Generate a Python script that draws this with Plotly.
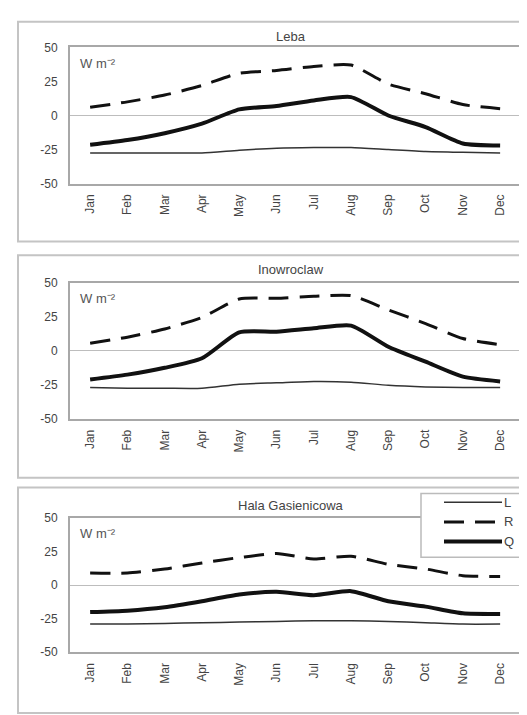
import plotly.graph_objects as go

months = ["Jan", "Feb", "Mar", "Apr", "May", "Jun", "Jul", "Aug", "Sep", "Oct", "Nov", "Dec"]
stations = ["Leba", "Inowroclaw", "Hala Gasienicowa"]
y_ticks = [-50, -25, 0, 25, 50]

leba_L = [-27.5, -27.5, -27.5, -27.5, -25.5, -24, -23.5, -23.5, -25, -26.5, -27, -27.5]
leba_R = [6, 10, 15, 22, 31, 33, 36, 37, 23, 16, 8, 5]
leba_Q = [-21.5, -18, -13, -6, 4.5, 7, 11, 13.5, 0, -8.5, -20.5, -22]

ino_L = [-27, -27.5, -27.5, -27.5, -24.5, -23.5, -22.5, -23, -25.3, -26.5, -27, -27]
ino_R = [5.5, 10, 16, 24.5, 38, 38.5, 40, 40.5, 30, 20, 9, 4.5]
ino_Q = [-21, -17.5, -12.5, -5.5, 13.5, 14, 16.5, 18.5, 3, -8, -19, -22.5]

hala_L = [-29, -29, -28.5, -28, -27.5, -27, -26.5, -26.5, -27, -28, -29, -29]
hala_R = [9, 9, 12, 16.5, 20.5, 23.5, 19.5, 21.5, 15.5, 12, 7, 6.5]
hala_Q = [-20, -19, -16.5, -12, -7, -5, -7.5, -4.5, -12, -16, -21, -21.5]

series = [(leba_L, leba_R, leba_Q), (ino_L, ino_R, ino_Q), (hala_L, hala_R, hala_Q)]

W, H = 527, 715
def px(x):
    return x / W
def py(y):
    return 1 - y / H

# plot areas in pixels (top, bottom)
plot_rows = [(33, 172), (273, 412), (513, 650)]
panel_boxes = [(7, 231), (245, 472), (482, 712)]
title_y = [22, 260, 500]
x_left, x_right = 62, 513

fig = go.Figure()
line_col = "#111111"
for i, (L, R, Q) in enumerate(series):
    xa = "x" if i == 0 else f"x{i+1}"
    ya = "y" if i == 0 else f"y{i+1}"
    fig.add_trace(go.Scatter(x=months, y=L, name="L", mode="lines", xaxis=xa, yaxis=ya,
                             line=dict(color="#333333", width=1.5, shape="spline", smoothing=0.6),
                             showlegend=False))
    fig.add_trace(go.Scatter(x=months, y=R, name="R", mode="lines", xaxis=xa, yaxis=ya,
                             line=dict(color=line_col, width=3, dash="20px,11px", shape="spline", smoothing=0.6),
                             showlegend=False))
    fig.add_trace(go.Scatter(x=months, y=Q, name="Q", mode="lines", xaxis=xa, yaxis=ya,
                             line=dict(color=line_col, width=4, shape="spline", smoothing=0.6),
                             showlegend=False))

layout = dict(
    width=W, height=H,
    margin=dict(l=0, r=0, t=0, b=0),
    paper_bgcolor="white", plot_bgcolor="white",
    font=dict(family="Liberation Sans, Arial", color="#444444", size=12),
)
axis_line = dict(showline=True, linecolor="#a8a8a8", linewidth=2, mirror=True, showgrid=False)
for i, (top, bot) in enumerate(plot_rows):
    sfx = "" if i == 0 else str(i + 1)
    layout[f"xaxis{sfx}"] = dict(
        domain=[px(x_left), px(x_right)], anchor=f"y{sfx}", type="category",
        range=[-0.54, 11.56], tickangle=-90, ticks="", tickfont=dict(size=12, color="#444444"),
        ticklabelstandoff=4, zeroline=False, **axis_line)
    layout[f"yaxis{sfx}"] = dict(
        domain=[py(bot), py(top)], anchor=f"x{sfx}", range=[-50, 50],
        tickvals=y_ticks, ticktext=[str(v) for v in y_ticks], ticks="",
        ticklabelstandoff=8, tickfont=dict(size=12, color="#444444"),
        zeroline=True, zerolinecolor="#bdbdbd", zerolinewidth=1, **axis_line)
fig.update_layout(**layout)

shapes = []
annotations = []
for i, (btop, bbot) in enumerate(panel_boxes):
    shapes.append(dict(type="rect", xref="paper", yref="paper", x0=px(10), x1=px(526),
                       y0=py(bbot), y1=py(btop), line=dict(color="#c4c4c4", width=2), layer="below"))
    annotations.append(dict(xref="paper", yref="paper", x=px(283), y=py(title_y[i]),
                            text=stations[i], showarrow=False, font=dict(size=13, color="#444444"),
                            xanchor="center", yanchor="middle"))
    top = plot_rows[i][0]
    annotations.append(dict(xref="paper", yref="paper", x=px(70), y=py(top + 16),
                            text="W m\u207b\u00b2", showarrow=False, font=dict(size=13, color="#555555"),
                            xanchor="left", yanchor="middle"))

# legend (bottom panel, top right)
shapes.append(dict(type="rect", xref="paper", yref="paper", x0=px(413), x1=px(512),
                   y0=py(553), y1=py(488), line=dict(color="#bbbbbb", width=1.5),
                   fillcolor="white", layer="above"))
legend_items = [("L", 497, dict(color="#333333", width=1.5)),
                ("R", 517, dict(color=line_col, width=3, dash="20px,11px")),
                ("Q", 537, dict(color=line_col, width=4))]
for name, yy, ln in legend_items:
    shapes.append(dict(type="line", xref="paper", yref="paper", x0=px(436), x1=px(494),
                       y0=py(yy), y1=py(yy), line=ln, layer="above"))
    annotations.append(dict(xref="paper", yref="paper", x=px(495), y=py(yy), text=name,
                            showarrow=False, font=dict(size=13, color="#444444"),
                            xanchor="left", yanchor="middle", borderpad=0))

fig.update_layout(shapes=shapes, annotations=annotations)
fig.write_html("out.html")
